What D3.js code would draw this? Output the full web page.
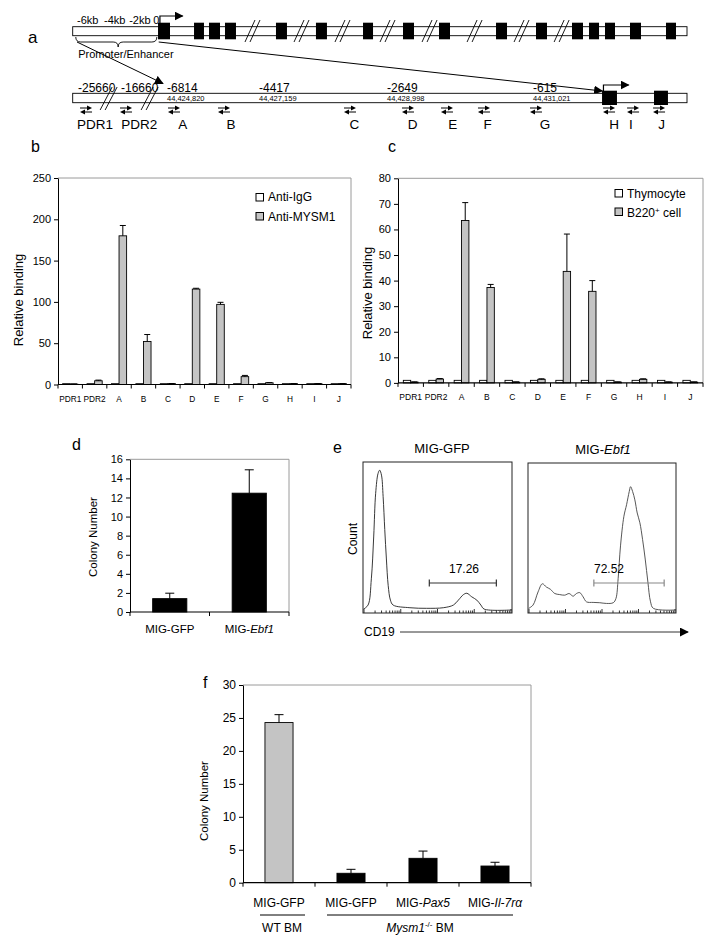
<!DOCTYPE html>
<html><head><meta charset="utf-8">
<script src="https://cdn.jsdelivr.net/npm/d3@7"></script>
<style>body{margin:0;background:#fff} svg{display:block;font-family:"Liberation Sans",Arial,sans-serif}</style>
</head><body><svg id="fig" width="720" height="943"></svg>
<script>
// ---------- DATA ----------
// panel a (positions as % of the drawn locus)
const topExons = [[13.89,15.84],[19.75,21.37],[22.19,23.98],[24.79,26.58],[33.09,34.88],[39.60,41.39],[47.26,48.89],[53.77,55.56],[59.63,61.42],[68.91,70.70],[75.42,77.21],[81.28,83.07],[84.05,85.68],[86.65,88.28],[90.72,92.51],[96.58,98.21]];
const topBreaks = [29.35,37.33,44.0,51.33,58.17,65.5,73.15,79.67];
const topLabels = ["-6kb","-4kb","-2kb","0"];
const topLabelPos = [0.7,5.1,9.2,13.1];
const botExons = [[86.17,88.6],[94.63,96.9]];
const botBreaks = [5.93,12.6];
const botLabels = ["-25660","-16660","-6814","-4417","-2649","-615"];
const botLabelPos = [0.86,7.86,15.35,30.33,51.16,74.93];
const chromLabels = ["44,424,820","44,427,159","44,428,998","44,431,021"];
const chromLabelPos = [15.35,30.33,51.16,74.93];
const primers = ["PDR1","PDR2","A","B","C","D","E","F","G","H","I","J"];
const primerPos = [2.17,8.68,16.49,24.63,45.14,54.58,60.93,66.95,75.42,87.31,91.22,95.45];
const primerLabelPos = [3.63,10.84,17.91,25.77,45.84,55.35,61.86,67.56,76.89,88.12,90.88,95.88];

// panel b
const bCats = ["PDR1","PDR2","A","B","C","D","E","F","G","H","I","J"];
const bIgG = [1,1,1,1,1,1,1,1,1,1,1,1];
const bMYSM1 = [0.5,4.5,180,52,1,115.5,97,9.5,2,1,1,1];
const bMYSM1Err = [0.2,0.8,12.5,8.5,0.2,1,2.5,1.5,0.3,0.1,0.1,0.1];
const bTicks = [0,50,100,150,200,250];

// panel c
const cCats = ["PDR1","PDR2","A","B","C","D","E","F","G","H","I","J"];
const cThymo = [1,1,1,1,1,1,1,1,1,1,1,1];
const cB220 = [0.3,1.5,63.5,37.3,0.3,1.4,43.6,35.8,0.3,1.4,0.3,0.3];
const cB220Err = [0.1,0.2,7,1.2,0.1,0.2,14.6,4.2,0.1,0.2,0.1,0.1];
const cTicks = [0,10,20,30,40,50,60,70,80];

// panel d
const dCats = ["MIG-GFP","MIG-Ebf1"];
const dVals = [1.4,12.45];
const dErr = [0.57,2.45];
const dTicks = [0,2,4,6,8,10,12,14,16];

// panel e (histograms: x = % of channel range, y = % of max count)
const eLeft = [[0.4,1.3],[3.4,4.0],[5.6,21.6],[7.2,50.3],[8.5,79],[10.1,92.3],[11.2,94.5],[12.4,91.2],[13.5,76.8],[14.6,54.7],[15.7,34.9],[16.9,17.2],[18.4,7.3],[20.2,4.0],[31.5,2.2],[42.7,1.8],[53.9,2.2],[60.7,4.0],[64.0,7.3],[67.4,11.0],[69.7,11.9],[73.0,9.5],[76.4,7.3],[79.1,4.0],[81.3,1.3],[100,0.7]];
const eRight = [[0.5,1.8],[3.4,4.0],[6.8,12.9],[9.7,18.4],[12.4,16.2],[15.1,14.7],[18.1,11.8],[21.4,11.1],[24.8,10.7],[27.8,11.8],[30.5,10.0],[32.7,11.8],[35.0,12.4],[37.2,9.6],[39.5,6.2],[44.0,5.8],[48.5,5.6],[53.0,5.1],[57.6,5.6],[59.4,8.4],[60.9,21.8],[62.5,44.0],[64.8,64.0],[66.6,71.8],[68.4,80.7],[69.3,84.0],[70.7,80.7],[72.2,75.1],[73.8,66.2],[75.6,59.6],[77.4,48.4],[79.2,35.1],[81.0,19.6],[82.8,6.2],[84.7,1.8],[100,0.7]];
const eGates = [[44.5,89.5],[44.5,92]];
const eGateLabels = ["17.26","72.52"];

// panel f
const fCats = ["MIG-GFP WT","MIG-GFP","MIG-Pax5","MIG-Il-7rα"];
const fVals = [24.3,1.43,3.7,2.53];
const fErr = [1.2,0.6,1.1,0.57];
const fTicks = [0,5,10,15,20,25,30];

// ---------- DRAW ----------
const svg = d3.select("#fig");
const GRAY = "#c4c4c4";
function txt(g,x,y,s,size,anchor){return g.append("text").attr("x",x).attr("y",y).attr("font-size",size).attr("text-anchor",anchor||"start").attr("fill","#000").text(s);}

// panel letters
[["a",28,43,17],["b",31,152,16],["c",388,152,16],["d",72,450,16],["e",333,453,16],["f",203,688,16]].forEach(d=>txt(svg,d[1],d[2],d[0],d[3]));

// ---- panel a ----
const ga = svg.append("g");
const ax = d3.scaleLinear().domain([0,100]).range([72.7,687]);
const defs = svg.append("defs");
defs.append("marker").attr("id","ah").attr("viewBox","0 0 10 10").attr("refX",9).attr("refY",5)
  .attr("markerWidth",9).attr("markerHeight",9).attr("markerUnits","userSpaceOnUse").attr("orient","auto")
  .append("path").attr("d","M0,0L10,5L0,10Z").attr("fill","#000");

// top locus
ga.append("rect").attr("x",ax(0)).attr("y",26.7).attr("width",ax(100)-ax(0)).attr("height",9).attr("fill","#fff").attr("stroke","#000").attr("stroke-width",0.9);
ga.selectAll("rect.te").data(topExons).join("rect").attr("class","te")
  .attr("x",d=>ax(d[0])).attr("width",d=>ax(d[1])-ax(d[0])).attr("y",22.7).attr("height",16.6).attr("fill","#000");
ga.selectAll("path.tb").data(topBreaks).join("path").attr("class","tb")
  .attr("d",d=>{const x=ax(d);return `M${x-8},42L${x+2},20M${x-3},42L${x+7},20`;})
  .attr("stroke","#000").attr("stroke-width",0.9).attr("fill","none");
topLabels.forEach((s,i)=>txt(ga,ax(topLabelPos[i]),24,s,11));
ga.append("path").attr("d",`M${ax(14.2)},23V16H${ax(17.9)}`).attr("fill","none").attr("stroke","#000").attr("stroke-width",1.2).attr("marker-end","url(#ah)");
// brace
{const x0=ax(0.5),x1=ax(13.7),m=ax(7.4);
ga.append("path").attr("d",`M${x0},37Q${x0},42 ${x0+5},42L${m-5},42Q${m},42 ${m},47Q${m},42 ${m+5},42L${x1-5},42Q${x1},42 ${x1},37`).attr("fill","none").attr("stroke","#000").attr("stroke-width",0.9);}
txt(ga,ax(0.9),58,"Promoter/Enhancer",11);
// zoom arrows
ga.append("line").attr("x1",ax(0.7)).attr("y1",42).attr("x2",ax(14.7)).attr("y2",83.5).attr("stroke","#000").attr("stroke-width",1).attr("marker-end","url(#ah)");
ga.append("line").attr("x1",ax(14.0)).attr("y1",42).attr("x2",ax(86.2)).attr("y2",91).attr("stroke","#000").attr("stroke-width",1).attr("marker-end","url(#ah)");

// bottom locus
ga.append("rect").attr("x",ax(0)).attr("y",93.3).attr("width",ax(100)-ax(0)).attr("height",9.4).attr("fill","#fff").attr("stroke","#000").attr("stroke-width",0.9);
ga.selectAll("path.bb").data(botBreaks).join("path").attr("class","bb")
  .attr("d",d=>{const x=ax(d);return `M${x-9},110L${x+3},87M${x-4},110L${x+8},87`;})
  .attr("stroke","#000").attr("stroke-width",0.9).attr("fill","none");
ga.selectAll("rect.be").data(botExons).join("rect").attr("class","be")
  .attr("x",d=>ax(d[0])).attr("width",d=>ax(d[1])-ax(d[0])).attr("y",90.7).attr("height",14.3).attr("fill","#000");
ga.append("path").attr("d",`M${ax(86.4)},91V85H${ax(90.5)}`).attr("fill","none").attr("stroke","#000").attr("stroke-width",1.2).attr("marker-end","url(#ah)");
botLabels.forEach((s,i)=>txt(ga,ax(botLabelPos[i]),91.5,s,12));
chromLabels.forEach((s,i)=>txt(ga,ax(chromLabelPos[i]),100.8,s,7.5));
// primer markers
primerPos.forEach((p,i)=>{
  const x=ax(p), y=110;
  ga.append("path").attr("d",`M${x-6},${y-2}H${x+1}M${x+6},${y+2}H${x-1}`).attr("stroke","#000").attr("stroke-width",1.2);
  ga.append("path").attr("d",`M${x+1},${y-4.5}L${x+6},${y-2}L${x+1},${y+0.5}ZM${x-1},${y-0.5}L${x-6},${y+2}L${x-1},${y+4.5}Z`).attr("fill","#000");
  txt(ga,ax(primerLabelPos[i]),128.5,primers[i],13.5,"middle");
});

// ---- generic bar panel ----
function barPanel(o){
  const g = svg.append("g");
  const x0 = d3.scaleBand().domain(o.cats).range([o.left,o.right]).paddingInner(o.pin).paddingOuter(o.pin/2);
  const y = d3.scaleLinear().domain([0,o.yMax]).range([o.bottom,o.top]);
  const x1 = d3.scaleBand().domain(d3.range(o.series.length)).range([0,x0.bandwidth()]);
  g.append("path").attr("d",`M${o.left},${o.top}H${o.right}V${o.bottom}`).attr("fill","none").attr("stroke","#9a9a9a").attr("stroke-width",1);
  o.series.forEach((s,si)=>{
    const sg=g.append("g");
    sg.selectAll("rect").data(o.cats).join("rect")
      .attr("x",c=>x0(c)+x1(si)).attr("width",x1.bandwidth())
      .attr("y",(c,i)=>y(s.values[i])).attr("height",(c,i)=>y(0)-y(s.values[i]))
      .attr("fill",(c,i)=>s.fills?s.fills[i]:s.fill).attr("stroke","#000").attr("stroke-width",0.9);
    if(s.errors){
      sg.selectAll("path").data(o.cats).join("path")
        .attr("d",(c,i)=>{const cx=x0(c)+x1(si)+x1.bandwidth()/2,y1=y(s.values[i]),y2=y(s.values[i]+s.errors[i]);return `M${cx},${y1}V${y2}M${cx-o.cap},${y2}H${cx+o.cap}`;})
        .attr("stroke","#000").attr("stroke-width",1).attr("fill","none");
    }
  });
  const ya = g.append("g").attr("transform",`translate(${o.left},0)`)
    .call(d3.axisLeft(y).tickValues(o.ticks).tickSize(4).tickSizeOuter(0).tickPadding(3));
  ya.attr("font-family",null);
  ya.select(".domain").attr("stroke","#000");
  ya.selectAll(".tick line").attr("stroke","#000");
  ya.selectAll("text").attr("font-size",o.tickFont).attr("fill","#000");
  g.append("line").attr("x1",o.left).attr("x2",o.right).attr("y1",o.bottom).attr("y2",o.bottom).attr("stroke","#000").attr("stroke-width",1.2);
  const step=x0.step();
  g.selectAll("line.xt").data(d3.range(o.cats.length+1)).join("line").attr("class","xt")
    .attr("x1",k=>o.left+k*step).attr("x2",k=>o.left+k*step).attr("y1",o.bottom).attr("y2",o.bottom+4).attr("stroke","#000");
  if(o.catLabels!==false){
    o.cats.forEach(c=>txt(g,x0(c)+x0.bandwidth()/2,o.labelY,c,o.catFont,"middle"));
  }
  g.append("text").attr("transform",`translate(${o.titleX},${o.titleY}) rotate(-90)`).attr("text-anchor","middle")
    .attr("font-size",o.titleFont).attr("fill","#000").text(o.title);
  return {g,x0,y};
}

// ---- panel b ----
barPanel({left:58,right:351,top:178,bottom:384.5,yMax:250,ticks:bTicks,cats:bCats,pin:0.38,cap:3,
  series:[{values:bIgG,fill:"#fff"},{values:bMYSM1,errors:bMYSM1Err,fill:GRAY}],
  tickFont:11,catFont:8.3,labelY:402,title:"Relative binding",titleX:23,titleY:300,titleFont:13});
{const g=svg.append("g");
 g.append("rect").attr("x",256).attr("y",193.5).attr("width",7.5).attr("height",7.5).attr("fill","#fff").attr("stroke","#000");
 g.append("rect").attr("x",256).attr("y",212.5).attr("width",7.5).attr("height",7.5).attr("fill",GRAY).attr("stroke","#000");
 txt(g,268,201,"Anti-IgG",12); txt(g,268,220.5,"Anti-MYSM1",12);}

// ---- panel c ----
barPanel({left:398,right:703,top:178.3,bottom:382.9,yMax:80,ticks:cTicks,cats:cCats,pin:0.42,cap:3,
  series:[{values:cThymo,fill:"#fff"},{values:cB220,errors:cB220Err,fill:GRAY}],
  tickFont:11,catFont:8.5,labelY:400,title:"Relative binding",titleX:372,titleY:293,titleFont:13});
{const g=svg.append("g");
 g.append("rect").attr("x",615).attr("y",189.5).attr("width",7.5).attr("height",7.5).attr("fill","#fff").attr("stroke","#000");
 g.append("rect").attr("x",615).attr("y",208).attr("width",7.5).attr("height",7.5).attr("fill",GRAY).attr("stroke","#000");
 txt(g,627,197.5,"Thymocyte",12);
 const t=txt(g,627,216.5,"B220",12); t.append("tspan").attr("font-size",8).attr("dy",-4).text("+"); t.append("tspan").attr("dy",4).text(" cell");}

// ---- panel d ----
{const p=barPanel({left:130,right:289,top:459.3,bottom:612,yMax:16,ticks:dTicks,cats:dCats,pin:0.57,cap:4.5,
  series:[{values:dVals,errors:dErr,fill:"#000"}],
  tickFont:11,catFont:11,labelY:633,catLabels:false,title:"Colony Number",titleX:97,titleY:537,titleFont:11.5});
 const c0=p.x0(dCats[0])+p.x0.bandwidth()/2, c1=p.x0(dCats[1])+p.x0.bandwidth()/2;
 txt(p.g,c0,633,"MIG-GFP",11.5,"middle");
 const t=txt(p.g,c1,633,"MIG-",11.5,"middle"); t.append("tspan").attr("font-style","italic").text("Ebf1");}

// ---- panel e ----
{const g=svg.append("g");
 const boxes=[{x0:363,x1:512,y0:462,y1:613,data:eLeft,gate:eGates[0],col:"#222",gcol:"#333"},
              {x0:528,x1:676,y0:463,y1:613,data:eRight,gate:eGates[1],col:"#444",gcol:"#888"}];
 boxes.forEach(b=>{
   const x=d3.scaleLinear().domain([0,100]).range([b.x0,b.x1]);
   const y=d3.scaleLinear().domain([0,100]).range([b.y1-2,b.y0]);
   const lx=d3.scaleLog().domain([1,1e4]).range([b.x0+1,b.x1-1]);
   const ticks=lx.ticks();
   g.selectAll(null).data(ticks).join("line").attr("x1",d=>lx(d)).attr("x2",d=>lx(d))
     .attr("y1",b.y1).attr("y2",d=>b.y1-(Math.log10(d)%1===0?4:2.5)).attr("stroke","#000").attr("stroke-width",0.8);
   g.append("path").datum(b.data).attr("d",d3.line().x(d=>x(d[0])).y(d=>y(d[1])).curve(d3.curveCatmullRom))
     .attr("fill","none").attr("stroke",b.col).attr("stroke-width",0.9);
   g.append("rect").attr("x",b.x0).attr("y",b.y0).attr("width",b.x1-b.x0).attr("height",b.y1-b.y0).attr("fill","none").attr("stroke","#222").attr("stroke-width",1);
   const gy=583, gx0=x(b.gate[0]), gx1=x(b.gate[1]);
   g.append("path").attr("d",`M${gx0},${gy}H${gx1}M${gx0},${gy-3.5}V${gy+3.5}M${gx1},${gy-3.5}V${gy+3.5}`).attr("stroke",b.gcol).attr("stroke-width",1.2).attr("fill","none");
 });
 txt(g,464,573,eGateLabels[0],12,"middle");
 txt(g,609,573,eGateLabels[1],12,"middle");
 txt(g,442,453,"MIG-GFP",13,"middle");
 const t=txt(g,603,454,"MIG-",13,"middle"); t.append("tspan").attr("font-style","italic").text("Ebf1");
 g.append("text").attr("transform","translate(357,539) rotate(-90)").attr("text-anchor","middle").attr("font-size",12).attr("fill","#000").text("Count");
 txt(g,364,636,"CD19",12);
 g.append("line").attr("x1",400).attr("x2",688).attr("y1",632).attr("y2",632).attr("stroke","#333").attr("stroke-width",1).attr("marker-end","url(#ah)");}

// ---- panel f ----
{const p=barPanel({left:243,right:531,top:685,bottom:882.7,yMax:30,ticks:fTicks,cats:fCats,pin:0.61,cap:4.5,
  series:[{values:fVals,errors:fErr,fills:[GRAY,"#000","#000","#000"]}],
  tickFont:12,catFont:12,labelY:906,catLabels:false,title:"Colony Number",titleX:208,titleY:801,titleFont:11.5});
 const cx=c=>p.x0(c)+p.x0.bandwidth()/2;
 txt(p.g,cx(fCats[0]),907,"MIG-GFP",12,"middle");
 txt(p.g,cx(fCats[1]),907,"MIG-GFP",12,"middle");
 let t=txt(p.g,cx(fCats[2]),907,"MIG-",12,"middle"); t.append("tspan").attr("font-style","italic").text("Pax5");
 t=txt(p.g,cx(fCats[3]),907,"MIG-",12,"middle"); t.append("tspan").attr("font-style","italic").text("Il-7rα");
 p.g.append("line").attr("x1",260).attr("x2",305).attr("y1",915).attr("y2",915).attr("stroke","#000");
 p.g.append("line").attr("x1",327).attr("x2",513).attr("y1",915).attr("y2",915).attr("stroke","#000");
 txt(p.g,282,932,"WT BM",12,"middle");
 t=txt(p.g,420,932,"",12,"middle");
 t.append("tspan").attr("font-style","italic").text("Mysm1");
 t.append("tspan").attr("font-size",8).attr("dy",-5).text("-/-");
 t.append("tspan").attr("dy",5).text(" BM");}
</script></body></html>
